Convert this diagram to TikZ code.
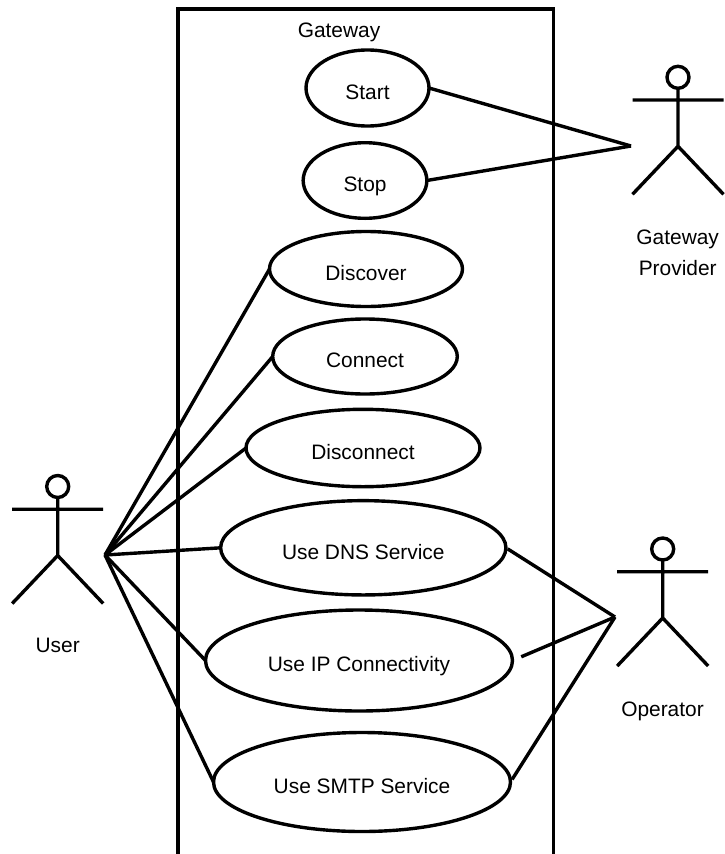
\documentclass[tikz,border=0pt]{standalone}
\usepackage{fontspec}
\setmainfont{Liberation Sans}
\usetikzlibrary{shapes.geometric}
\tikzset{
  x=1pt,y=-1pt,
  heavy/.style={line width=3.4pt,black},
  usecase/.style={draw,heavy,ellipse,inner sep=0pt,outer sep=0pt,font=\fontsize{20.9}{24}\selectfont,text height=24pt,text depth=1.4pt},
  caption/.style={font=\fontsize{20.9}{31}\selectfont,align=center,inner sep=0pt,anchor=base},
  wire/.style={heavy},
}
\newcommand{\stickman}[2]{% x centre, head centre y
  \draw[heavy] (#1,#2) circle (11);
  \draw[heavy] (#1,#2+11) -- (#1,#2+69) (#1-45.5,#2+22.7) -- (#1+45.5,#2+22.7)
        (#1-45.5,#2+117) -- (#1,#2+69) -- (#1+45.5,#2+117);
}
\begin{document}
\begin{tikzpicture}
\useasboundingbox (0,0) rectangle (725,854);
\draw[heavy] (178,860) -- (178,9) -- (553.3,9) -- (553.3,860);
\node[caption] (gateway) at (339,37) {Gateway};
\node[usecase,minimum width=123,minimum height=76] (start) at (367.5,88) {Start};
\node[usecase,minimum width=123.7,minimum height=75.6] (stop) at (365,180.5) {Stop};
\node[usecase,minimum width=193,minimum height=75] (discover) at (366,269) {Discover};
\node[usecase,minimum width=184.6,minimum height=75] (connect) at (365,356.5) {Connect};
\node[usecase,minimum width=234,minimum height=77.4] (disconnect) at (363,448) {Disconnect};
\node[usecase,minimum width=285.3,minimum height=94.3] (dns) at (363.3,547.8) {Use DNS Service};
\node[usecase,minimum width=307,minimum height=101] (ip) at (359,660.5) {Use IP Connectivity};
\node[usecase,minimum width=297,minimum height=99] (smtp) at (362,782) {Use SMTP Service};
\stickman{57.7}{486.5}
\stickman{678}{77.3}
\stickman{662.7}{549}
\node[caption] (userlabel) at (57.7,652.7) {User};
\node[caption] (gwlabel) at (677.7,244.3) {Gateway};
\node[caption] (provlabel) at (677.7,275) {Provider};
\node[caption] (oplabel) at (662.5,716) {Operator};
\coordinate (userhub) at (105,555);
\coordinate (provhub) at (631,146);
\coordinate (ophub) at (615,617);
\draw[wire] (userhub) -- (discover.west);
\draw[wire] (userhub) -- (connect.west);
\draw[wire] (userhub) -- (disconnect.west);
\draw[wire] (userhub) -- (dns.west);
\draw[wire] (userhub) -- (ip.west);
\draw[wire] (userhub) -- (smtp.west);
\draw[wire] (provhub) -- (start.east);
\draw[wire] (provhub) -- (stop.east);
\draw[wire,shorten >=2pt] (ophub) -- (dns.east);
\draw[wire,shorten >=9.5pt] (ophub) -- (ip.east);
\draw[wire,shorten >=3pt] (ophub) -- (smtp.east);
\end{tikzpicture}
\end{document}
